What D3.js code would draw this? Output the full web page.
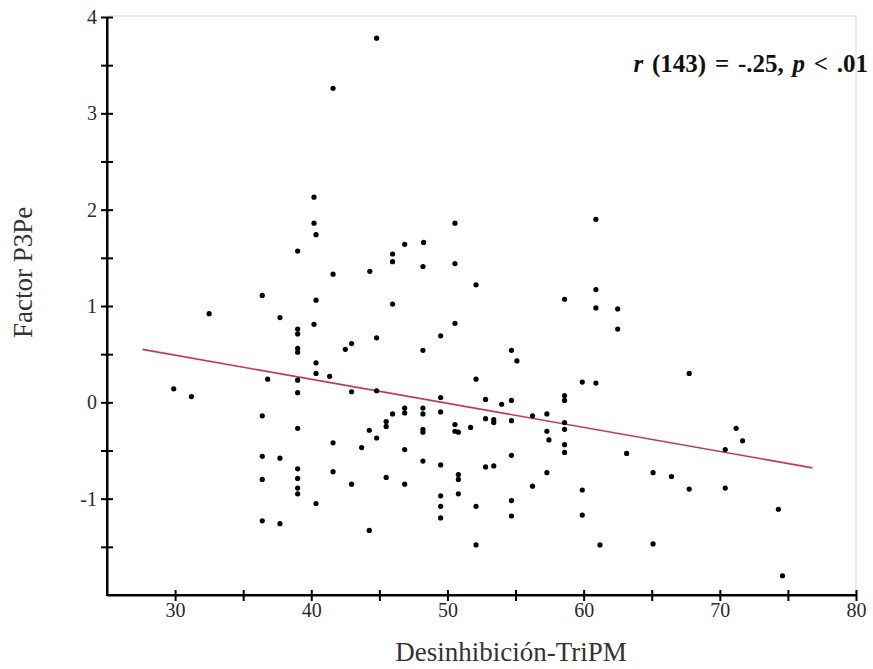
<!DOCTYPE html>
<html><head><meta charset="utf-8">
<script src="https://cdn.jsdelivr.net/npm/d3@7"></script>
<style>body{margin:0;background:#fff}svg{display:block}</style>
</head><body>
<svg id="c" width="873" height="669"></svg>
<script>
const xVals = [44.8,41.6,40.2,40.2,40.35,39.0,45.97,45.97,41.6,44.3,36.4,40.35,45.97,32.5,37.7,40.2,39.0,39.0,44.8,42.96,42.5,39.0,39.0,40.35,40.35,41.35,36.8,39.0,29.9,31.2,39.0,42.96,44.8,36.4,45.97,39.0,45.5,45.5,44.26,44.8,41.6,43.7,36.4,37.7,39.0,41.6,36.4,39.0,45.5,42.96,39.0,39.0,40.35,36.4,37.7,44.26,
50.55,46.86,48.25,48.2,50.55,52.1,60.9,58.6,60.9,60.9,62.5,62.5,50.55,49.5,48.2,54.7,55.1,52.1,59.9,60.9,49.5,52.8,53.98,54.7,58.6,58.6,46.86,46.86,48.2,48.2,49.5,56.25,57.3,52.8,53.4,53.4,54.7,58.6,58.6,57.3,57.45,58.6,58.6,63.16,50.55,50.55,50.8,51.7,46.86,46.86,48.2,48.2,48.2,49.5,49.5,49.5,49.5,50.8,50.8,50.8,52.1,52.1,52.8,53.4,54.7,54.7,54.7,56.25,57.3,59.9,59.9,61.2,65.1,66.45,65.1,67.75,67.75,70.4,70.4,71.2,71.67,74.3,74.6];
const yVals = [3.78,3.26,2.13,1.86,1.74,1.57,1.54,1.46,1.33,1.36,1.11,1.06,1.02,0.92,0.88,0.81,0.76,0.71,0.67,0.61,0.55,0.56,0.52,0.41,0.30,0.27,0.24,0.23,0.14,0.06,0.10,0.11,0.12,-0.14,-0.12,-0.27,-0.20,-0.25,-0.29,-0.37,-0.42,-0.47,-0.56,-0.58,-0.69,-0.72,-0.80,-0.79,-0.78,-0.85,-0.89,-0.95,-1.05,-1.23,-1.26,-1.33,
1.86,1.64,1.66,1.41,1.44,1.22,1.90,1.07,1.17,0.98,0.97,0.76,0.82,0.69,0.54,0.54,0.43,0.24,0.21,0.20,0.05,0.03,-0.02,0.02,0.07,0.02,-0.06,-0.11,-0.06,-0.12,-0.10,-0.14,-0.12,-0.17,-0.18,-0.21,-0.19,-0.21,-0.28,-0.30,-0.39,-0.44,-0.52,-0.53,-0.23,-0.30,-0.31,-0.26,-0.49,-0.85,-0.28,-0.31,-0.61,-0.65,-0.97,-1.08,-1.20,-0.75,-0.80,-0.95,-1.08,-1.48,-0.67,-0.66,-0.55,-1.02,-1.18,-0.87,-0.73,-0.91,-1.17,-1.48,-0.73,-0.77,-1.47,0.30,-0.90,-0.49,-0.89,-0.27,-0.40,-1.11,-1.80];
const lineX = [27.6, 76.8];
const lineY = [0.55, -0.68];
const xTicks = [30,35,40,45,50,55,60,65,70,75,80];
const xLabels = [30,40,50,60,70,80];
const yTicks = [-1.5,-1,-0.5,0,0.5,1,1.5,2,2.5,3,3.5,4];
const yLabels = [-1,0,1,2,3,4];
const xTitle = "Desinhibición-TriPM";
const yTitle = "Factor P3Pe";

const svg = d3.select("#c");
const x = d3.scaleLinear().domain([25,80]).range([107,856]);
const y = d3.scaleLinear().domain([-2,4]).range([595,17]);
const serif = "'Liberation Serif','DejaVu Serif',serif";

// light frame top/right
svg.append("path").attr("d",`M${x(25)},${y(4)-1}H${x(80)}V${y(-2)}`)
  .attr("fill","none").attr("stroke","#ececec").attr("stroke-width",2);

const xa = svg.append("g").attr("transform",`translate(0,${y(-2)})`)
  .call(d3.axisBottom(x).tickValues(xTicks).tickFormat(d => xLabels.includes(d) ? String(d) : "")
    .tickSize(6).tickSizeOuter(0).tickPadding(2));
xa.selectAll(".tick line").attr("y1",-5).attr("y2",6);
const ya = svg.append("g").attr("transform",`translate(${x(25)},0)`)
  .call(d3.axisLeft(y).tickValues(yTicks).tickFormat(d => yLabels.includes(d) ? String(d) : "")
    .tickSize(6).tickSizeOuter(0).tickPadding(4));
ya.selectAll(".tick line").attr("x1",6).attr("x2",-6);
[xa,ya].forEach(g=>{
  g.select(".domain").attr("stroke","#000").attr("stroke-width",2);
  g.selectAll(".tick line").attr("stroke","#000").attr("stroke-width",2);
  g.selectAll("text").attr("font-family",serif).attr("font-size",20).attr("fill","#2a2a2a");
});
// axes meeting at the corner
svg.append("path").attr("d",`M${x(25)},${y(4)}V${y(-2)}H${x(80)}`).attr("fill","none").attr("stroke","#000").attr("stroke-width",2);

svg.append("line").attr("x1",x(lineX[0])).attr("y1",y(lineY[0])).attr("x2",x(lineX[1])).attr("y2",y(lineY[1]))
  .attr("stroke","#c23a52").attr("stroke-width",1.6);

svg.append("g").selectAll("circle").data(xVals.map((v,i)=>[v,yVals[i]])).join("circle")
  .attr("cx",d=>x(d[0])).attr("cy",d=>y(d[1])).attr("r",2.6).attr("fill","#000");

const ann = svg.append("text").attr("x",868).attr("y",72).attr("text-anchor","end")
  .attr("font-family",serif).attr("font-size",25).attr("font-weight","bold").attr("fill","#111")
  .attr("word-spacing",2.5);
ann.append("tspan").attr("font-style","italic").text("r");
ann.append("tspan").text(" (143) = -.25, ");
ann.append("tspan").attr("font-style","italic").text("p");
ann.append("tspan").text(" < .01");

svg.append("text").attr("x",511).attr("y",661).attr("text-anchor","middle")
  .attr("font-family",serif).attr("font-size",27).attr("fill","#333").text(xTitle);
svg.append("text").attr("transform","translate(32,338) rotate(-90)").attr("text-anchor","start")
  .attr("font-family",serif).attr("font-size",27).attr("fill","#333").text(yTitle);
</script>
</body></html>
